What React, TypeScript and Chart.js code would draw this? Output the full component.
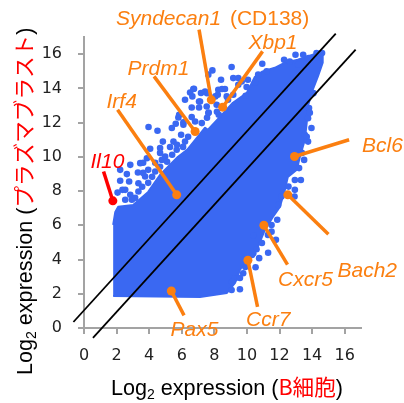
import React, { useEffect, useRef } from "react";
import { Chart, registerables } from "chart.js";

Chart.register(...registerables);

// Dense cloud outline (log2 B cell, log2 plasmablast)
const cloudX = [1.79,7.12,8.77,9.27,9.57,10.06,10.67,11.1,11.59,12.02,12.33,12.51,13.06,13.25,13.55,13.67,13.73,14.04,14.35,14.65,14.65,14.04,13.12,12.33,11.71,10.92,10.49,10.0,9.14,8.47,7.61,7.43,6.33,5.77,4.67,3.94,3.02,2.1,1.92,1.79];
const cloudY = [1.87,1.81,2.05,2.63,3.39,4.15,4.74,5.73,6.49,7.08,8.07,8.83,9.24,10.0,10.99,11.99,12.92,13.92,14.68,15.5,16.14,15.96,15.67,15.5,15.2,14.97,14.68,13.74,13.16,12.46,11.58,11.7,10.41,10.0,8.95,7.95,7.19,7.08,6.78,6.02];

// Scattered genes at the cloud's edge
const fringeX = [3.96,4.51,5.39,5.63,6.1,5.96,4.84,5.49,4.67,4.06,5.28,3.86,3.45,2.84,2.22,3.31,2.63,2.22,2.77,3.34,3.75,4.37,2.06,2.36,2.84,3.34,2.53,2.94,3.63,4.78,5.69,6.2,4.98,3.94,9.06,10.94,7.88,7.63,8.41,9.16,9.47,6.75,6.51,6.2,6.65,7.18,7.43,8.24,8.65,8.21,8.76,9.98,9.92,7.06,6.61,7.06,7.53,7.63,8.14,9.16,10.69,11.21,5.79,6.1,6.61,6.82,7.23,9.47,9.68,11.3,10.75,10.53,11.78,11.51,11.51,11.86,10.59,10.39,9.77,9.57,9.06,9.27,11.92,12.98,13.45,12.28,12.63,13.14,13.66,14.27,14.61,13.96,13.75,13.55,13.75,13.51,13.2,13.31,12.94,12.12,5.84,10.06,8.47,7.55,8.06,7.65,8.27,13.78,13.81,14.08,12.55,12.92,9.9,10.41,9.08,6.71,7.12,2.53,3.14,3.57,3.94,3.63,4.18,4.67,4.37,5.1,5.41,5.71,6.08,6.39,4.67,8.16,7.55,8.84,10.49,10.0,10.31,10.92,11.29,9.57,13.86,13.67,13.37,12.94];
const fringeY = [11.74,11.52,11.68,11.93,11.87,11.29,10.89,10.89,10.51,10.47,10.57,9.92,9.63,9.53,9.24,9.08,8.99,8.6,8.56,8.46,8.85,9.14,7.91,8.07,7.78,7.97,7.49,7.49,9.65,9.82,10.41,10.89,10.02,9.24,15.25,15.44,15.05,14.8,14.5,14.6,14.6,13.98,13.76,13.33,13.53,13.73,13.82,13.92,13.96,13.63,13.53,14.08,13.57,13.23,12.88,12.88,12.94,12.56,13.04,13.63,14.8,14.99,12.3,12.01,12.32,12.06,11.97,14.21,14.4,4.4,4.08,3.55,5.15,5.63,6.02,6.32,4.6,4.37,3.2,2.26,2.22,2.91,7.19,15.96,15.96,15.67,15.57,15.38,15.57,16.06,16.06,11.68,12.26,11.29,10.89,9.82,9.34,8.65,8.07,7.68,12.46,14.5,13.96,13.72,13.53,12.59,12.46,15.77,12.85,13.72,8.26,7.68,3.57,5.42,2.69,13.96,13.23,8.07,7.6,8.25,8.48,9.06,8.83,9.42,9.65,9.71,10.12,10.7,10.58,11.17,10.23,12.63,12.28,13.33,14.33,3.68,4.27,4.97,5.44,2.92,12.57,11.17,10.23,8.65];

// Two-fold guide lines
const upperLineX = [-0.65, 15.45];
const upperLineY = [0.35, 17.2];
const lowerLineX = [0.55, 16.67];
const lowerLineY = [-0.58, 16.26];

// Highlighted genes
const geneDotX = [1.77,5.69,6.82,7.81,8.51,12.92,12.51,11.04,10.06,5.36];
const geneDotY = [7.43,7.78,11.48,13.33,12.9,10.02,7.78,6.0,3.96,2.16];
const geneEndX = [1.2,2.06,4.3,7.06,10.96,16.27,15.0,12.49,10.65,6.14];
const geneEndY = [9.14,12.75,14.7,17.43,16.16,11.0,5.48,3.7,1.23,0.74];

const xTitle = ["Log", "2", " expression (", "B細胞", ")"];
const yTitle = ["Log", "2", " expression (", "プラズマブラスト", ")"];
const geneLabels = ["Il10","Irf4","Prdm1","Syndecan1","Xbp1","Bcl6","Bach2","Cxcr5","Ccr7","Pax5"];

const BLUE = "#3a68f2";
const ORANGE = "#fb7f10";
const RED = "#ff0000";
const GRAY = "#a3a3a3";
const LABEL_FONT = "italic 21px 'Liberation Sans'";
const labelSpots = [[90.5,167.5],[106.5,107.5],[127.5,75],[116,25],[248.5,49],[362,151.5],[337.5,277],[278,286],[246,326],[170.5,336]];

function drawTitle(ctx: CanvasRenderingContext2D, parts: string[], size: number) {
  let x = 0;
  const latin = `${size}px 'Liberation Sans'`;
  const cjk = `${size}px 'Noto Sans CJK JP'`;
  parts.forEach((p, i) => {
    const isSub = i === 1;
    const isRed = i === 3;
    ctx.font = isSub ? `${Math.round(size * 0.66)}px 'Liberation Sans'` : isRed ? cjk : latin;
    ctx.fillStyle = isRed ? RED : "#000";
    ctx.fillText(p, x, isSub ? 4 : 0);
    x += ctx.measureText(p).width;
  });
}

const annotations = {
  id: "annotations",
  afterDraw(chart: Chart) {
    const ctx = chart.ctx;
    ctx.save();
    ctx.textBaseline = "alphabetic";
    ctx.textAlign = "left";
    geneLabels.forEach((g, i) => {
      ctx.font = LABEL_FONT;
      ctx.fillStyle = i === 0 ? RED : ORANGE;
      ctx.fillText(g, labelSpots[i][0], labelSpots[i][1]);
      if (g === "Syndecan1") {
        const w = ctx.measureText(g).width;
        ctx.font = "21px 'Liberation Sans'";
        ctx.fillText(" (CD138)", labelSpots[i][0] + w + 3, labelSpots[i][1]);
      }
    });
    ctx.save();
    ctx.translate(111, 395);
    drawTitle(ctx, xTitle, 21.6);
    ctx.restore();
    ctx.save();
    ctx.translate(32, 375);
    ctx.rotate(-Math.PI / 2);
    drawTitle(ctx, yTitle, 21.6);
    ctx.restore();
    ctx.restore();
  },
};

export default function App() {
  const ref = useRef<HTMLCanvasElement>(null);
  useEffect(() => {
    const pts = (xs: number[], ys: number[]) => xs.map((x, i) => ({ x, y: ys[i] }));
    const pinSets = geneLabels.map((g, i) => {
      const c = i === 0 ? RED : ORANGE;
      return {
        label: g,
        data: [{ x: geneDotX[i], y: geneDotY[i] }, { x: geneEndX[i], y: geneEndY[i] }],
        showLine: true,
        borderColor: c,
        backgroundColor: c,
        borderWidth: 3.5,
        pointRadius: [4.5, 0],
        pointBorderWidth: 0,
        clip: false as const,
      };
    });
    const guide = (xs: number[], ys: number[], label: string) => ({
      label,
      data: pts(xs, ys),
      showLine: true,
      borderColor: "#000",
      borderWidth: 1.8,
      pointRadius: 0,
      clip: false as const,
    });
    const chart = new Chart(ref.current!, {
      type: "scatter",
      data: {
        datasets: [
          ...pinSets,
          guide(upperLineX, upperLineY, "upper"),
          guide(lowerLineX, lowerLineY, "lower"),
          {
            label: "genes",
            data: pts(fringeX, fringeY),
            backgroundColor: BLUE,
            pointRadius: 3.3,
            pointBorderWidth: 0,
            clip: false as const,
          },
          {
            label: "cloud",
            data: pts(cloudX, cloudY),
            showLine: true,
            fill: "shape",
            borderColor: BLUE,
            backgroundColor: BLUE,
            borderWidth: 2,
            borderJoinStyle: "round",
            pointRadius: 0,
            clip: false as const,
          },
        ] as any,
      },
      options: {
        responsive: false,
        animation: false,
        layout: { padding: { left: 0, top: 37, right: 43, bottom: 0 } },
        plugins: { legend: { display: false }, tooltip: { enabled: false }, title: { display: false } },
        scales: {
          x: {
            type: "linear",
            min: 0,
            max: 17,
            afterFit: (s: any) => { s.height = 75; },
            grid: { drawOnChartArea: false, color: GRAY, lineWidth: 2, tickLength: 6 },
            border: { color: GRAY, width: 2 },
            ticks: { stepSize: 2, includeBounds: false, maxRotation: 0, padding: 12, color: "#222", font: { family: "'DejaVu Sans'", size: 16 } },
          },
          y: {
            type: "linear",
            min: 0,
            max: 17,
            afterFit: (s: any) => { s.width = 84; },
            grid: { drawOnChartArea: false, color: GRAY, lineWidth: 2, tickLength: 6 },
            border: { color: GRAY, width: 2 },
            ticks: { stepSize: 2, includeBounds: false, padding: 16, color: "#222", font: { family: "'DejaVu Sans'", size: 16 } },
          },
        },
      },
      plugins: [annotations],
    } as any);
    return () => chart.destroy();
  }, []);
  return (
    <div style={{ position: "absolute", left: 0, top: 0 }}>
      <canvas ref={ref} width={404} height={403} style={{ display: "block" }} />
    </div>
  );
}
